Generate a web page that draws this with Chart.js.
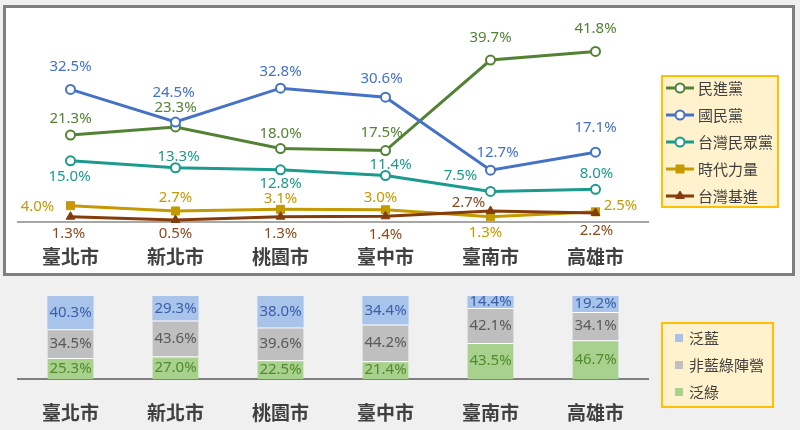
<!DOCTYPE html>
<html>
<head>
<meta charset="utf-8">
<script src="https://cdn.jsdelivr.net/npm/chart.js@4.4.1/dist/chart.umd.min.js"></script>
<style>
  html, body { margin: 0; padding: 0; background: #f0f0f0; }
  body { width: 800px; height: 430px; position: relative; overflow: hidden; }
  #topBox { position: absolute; left: 3px; top: 5px; width: 786px; height: 265px;
            border: 3px solid #7f7f7f; background: #fff; }
  #barBox { position: absolute; left: 6px; top: 278px; width: 786px; height: 152px; }
  canvas { display: block; }
</style>
</head>
<body>
<div id="topBox"><canvas id="lineChart" width="786" height="265"></canvas></div>
<div id="barBox"><canvas id="barChart" width="786" height="152"></canvas></div>
<script>
// 各縣市
const cities = ["臺北市", "新北市", "桃園市", "臺中市", "臺南市", "高雄市"];

// 政黨支持度 (%)
const dpp = [21.3, 23.3, 18.0, 17.5, 39.7, 41.8];
const kmt = [32.5, 24.5, 32.8, 30.6, 12.7, 17.1];
const tpp = [15.0, 13.3, 12.8, 11.4, 7.5, 8.0];
const npp = [4.0, 2.7, 3.1, 3.0, 1.3, 2.5];
const tsp = [1.3, 0.5, 1.3, 1.4, 2.7, 2.2];

// 陣營 (%)
const panBlue = [40.3, 29.3, 38.0, 34.4, 14.4, 19.2];
const neutral = [34.5, 43.6, 39.6, 44.2, 42.1, 34.1];
const panGreen = [25.3, 27.0, 22.5, 21.4, 43.5, 46.7];

// label placement (dx, dy from the point), like the hand-moved Excel labels
const dppOff = [[0, -16], [0, -19], [0, -15], [-4, -18], [0, -22], [0, -23]];
const kmtOff = [[0, -23], [-2, -29], [0, -16], [-4, -18], [7, -17], [0, -24]];
const tppOff = [[-1, 16], [3, -11], [0, 14], [5, -11], [-30, -16], [1, -16]];
const nppOff = [[-33, 1], [0, -13], [0, -11], [-5, -12], [-5, 16], [25, -6]];
const tspOff = [[-2, 17], [0, 14], [0, 17], [0, 18], [-22, -8], [1, 18]];

const numFont = '"Noto Sans", "Noto Sans CJK TC", sans-serif';
const cjkFont = '"Noto Sans CJK TC", "Noto Sans", sans-serif';

const pct = v => v.toFixed(1) + "%";

// 數值標籤
const pointLabels = {
  id: "pointLabels",
  afterDatasetsDraw(chart) {
    const ctx = chart.ctx;
    ctx.save();
    ctx.font = "15px " + numFont;
    ctx.textAlign = "center";
    ctx.textBaseline = "middle";
    chart.data.datasets.forEach((ds, i) => {
      const meta = chart.getDatasetMeta(i);
      meta.data.forEach((el, j) => {
        ctx.fillStyle = ds.labelColor;
        if (chart.config.type === "bar") {
          ctx.fillText(pct(ds.data[j]), el.x, (el.y + el.base) / 2);
        } else {
          const off = ds.labelOffsets[j];
          ctx.fillText(pct(ds.data[j]), el.x + off[0], el.y + off[1]);
        }
      });
    });
    ctx.restore();
  }
};

// 圖例方框
const boxLegend = {
  id: "boxLegend",
  afterDraw(chart, args, opts) {
    const ctx = chart.ctx;
    ctx.save();
    ctx.fillStyle = "#fff2cc";
    ctx.strokeStyle = "#ffc000";
    ctx.lineWidth = 2;
    ctx.fillRect(opts.x, opts.y, opts.w, opts.h);
    ctx.strokeRect(opts.x, opts.y, opts.w, opts.h);
    ctx.font = "15px " + cjkFont;
    ctx.textBaseline = "middle";
    ctx.textAlign = "left";
    let list = chart.data.datasets.map((ds, i) => i);
    if (opts.reverse) list = list.reverse();
    list.forEach((i, k) => {
      const ds = chart.data.datasets[i];
      const y = opts.y + opts.first + k * opts.step;
      const x = opts.x + 4;
      if (opts.line) {
        ctx.strokeStyle = ds.borderColor;
        ctx.lineWidth = 3;
        ctx.beginPath();
        ctx.moveTo(x, y);
        ctx.lineTo(x + 28, y);
        ctx.stroke();
        ctx.fillStyle = ds.pointBackgroundColor;
        ctx.strokeStyle = ds.pointBorderColor;
        ctx.lineWidth = ds.pointBorderWidth;
        Chart.helpers.drawPoint(ctx, {
          pointStyle: ds.pointStyle, radius: ds.pointRadius,
          borderWidth: ds.pointBorderWidth, rotation: 0
        }, x + 14, y);
        ctx.fillStyle = "#404040";
        ctx.fillText(ds.label, x + 32, y);
      } else {
        ctx.fillStyle = ds.backgroundColor;
        ctx.fillRect(x + 9, y - 4, 8, 8);
        ctx.fillStyle = "#404040";
        ctx.fillText(ds.label, x + 23, y);
      }
    });
    ctx.restore();
  }
};

const lineSeries = (label, data, color, textColor, offsets, style) => ({
  label, data,
  borderColor: color,
  borderWidth: 3,
  tension: 0,
  pointStyle: style,
  pointRadius: style === "circle" ? 4.5 : (style === "rect" ? 5.7 : 5),
  pointBorderWidth: style === "circle" ? 2 : 1,
  pointBackgroundColor: style === "circle" ? "#fff" : color,
  pointBorderColor: color,
  labelColor: textColor,
  labelOffsets: offsets,
  clip: false
});

const lineData = [
  lineSeries("民進黨", dpp, "#548235", "#548235", dppOff, "circle"),
  lineSeries("國民黨", kmt, "#4472c4", "#4472c4", kmtOff, "circle"),
  lineSeries("台灣民眾黨", tpp, "#1c9a8e", "#1c9a8e", tppOff, "circle"),
  lineSeries("時代力量", npp, "#c49a00", "#c49a00", nppOff, "rect"),
  lineSeries("台灣基進", tsp, "#843c0c", "#8a4a1e", tspOff, "triangle")
];
lineData.forEach((ds, i) => { ds.order = -i; });

new Chart(document.getElementById("lineChart"), {
  type: "line",
  data: { labels: cities, datasets: lineData },
  options: {
    responsive: false,
    animation: false,
    layout: { padding: { left: 12, right: 144, top: 10, bottom: 0 } },
    plugins: {
      legend: { display: false },
      tooltip: { enabled: false },
      boxLegend: { x: 656, y: 68, w: 116, h: 131, first: 12, step: 27, line: true }
    },
    scales: {
      x: {
        offset: true,
        grid: { display: false, drawTicks: false },
        border: { display: true, color: "#a6a6a6", width: 2 },
        ticks: { color: "#404040", padding: 23, font: { family: cjkFont, size: 19, weight: "bold" } },
        afterFit: s => { s.height = 51; }
      },
      y: { display: false, min: 0, max: 50 }
    }
  },
  plugins: [pointLabels, boxLegend]
});

new Chart(document.getElementById("barChart"), {
  type: "bar",
  data: {
    labels: cities,
    datasets: [
      { label: "泛綠", data: panGreen, backgroundColor: "#a9d18e", labelColor: "#4f8a2c",
        borderColor: "#ffffff", borderWidth: { top: 1, left: 0, right: 0, bottom: 0 } },
      { label: "非藍綠陣營", data: neutral, backgroundColor: "#bfbfbf", labelColor: "#595959",
        borderColor: "#ffffff", borderWidth: { top: 1, left: 0, right: 0, bottom: 0 } },
      { label: "泛藍", data: panBlue, backgroundColor: "#a9c4eb", labelColor: "#3a5ea8",
        borderWidth: 0 }
    ]
  },
  options: {
    responsive: false,
    animation: false,
    layout: { padding: { left: 12, right: 144, top: 18, bottom: 0 } },
    datasets: { bar: { categoryPercentage: 1, barPercentage: 0.44 } },
    plugins: {
      legend: { display: false },
      tooltip: { enabled: false },
      boxLegend: { x: 656, y: 45, w: 111, h: 84, first: 15, step: 27, line: false, reverse: true }
    },
    scales: {
      x: {
        stacked: true,
        grid: { display: false, drawTicks: false },
        border: { display: true, color: "#808080", width: 2 },
        ticks: { color: "#404040", padding: 22, font: { family: cjkFont, size: 19, weight: "bold" } },
        afterFit: s => { s.height = 51; }
      },
      y: { stacked: true, display: false, min: 0, max: 100 }
    }
  },
  plugins: [pointLabels, boxLegend]
});
</script>
</body>
</html>
